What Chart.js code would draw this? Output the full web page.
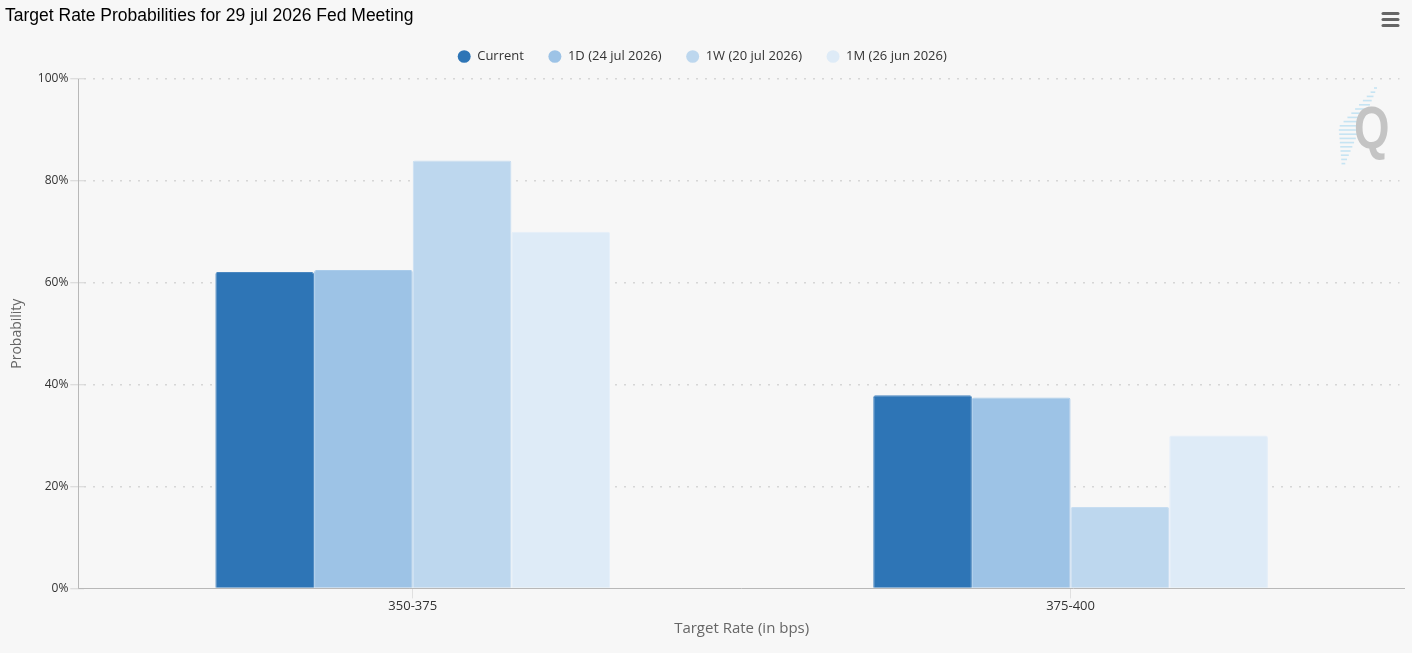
<!DOCTYPE html>
<html>
<head>
<meta charset="utf-8">
<title>Target Rate Probabilities</title>
<script src="https://cdn.jsdelivr.net/npm/chart.js@4.4.1/dist/chart.umd.min.js"></script>
<style>
    html, body {
        margin: 0;
        padding: 0;
        background: #f7f7f7;
    }
    #prob-chart-wrap {
        position: relative;
        width: 1412px;
        height: 653px;
    }
</style>
</head>
<body>
<div id="prob-chart-wrap">
    <canvas id="prob-chart-bar" width="1412" height="653"></canvas>
</div>
<script>
// values (percent)
const categories = ['350-375', '375-400'];
const seriesNames = ['Current', '1D (24 jul 2026)', '1W (20 jul 2026)', '1M (26 jun 2026)'];
const currentValues = [62.1, 37.9];
const oneDayValues = [62.5, 37.5];
const oneWeekValues = [84.0, 16.0];
const oneMonthValues = [70.0, 30.0];
const yTicks = [0, 20, 40, 60, 80, 100];

const seriesColors = ['#2e75b6', '#9dc3e6', '#bdd7ee', '#deebf7'];
const edgeColors = ['#4a87c0', '#a9cbea', '#c7ddf1', '#e4eef9'];
const axisFont = "'Open Sans', sans-serif";
const axisGap = 5.5;   // axis lines sit a little outside the plot area

// a bit of extra room under the legend
const legendGapPlugin = {
    id: 'legendGap',
    beforeLayout(chart) {
        const legend = chart.legend;
        if (legend && !legend._gapPatched) {
            const baseFit = legend.fit;
            legend.fit = function () {
                baseFit.call(this);
                this.height += 6;
            };
            legend._gapPatched = true;
        }
    }
};

// axis lines, hamburger menu and Q watermark
const decorPlugin = {
    id: 'decor',
    beforeDatasetsDraw(chart) {
        const c = chart.ctx;
        const area = chart.chartArea;
        c.save();
        // watermark stripes
        c.strokeStyle = 'rgba(150, 210, 240, 0.5)';
        c.lineWidth = 1.6;
        for (let y = 88; y <= 164; y += 4.2) {
            const xr = 1377 - (y - 88) * 0.42;
            const len = 3 + 19 * Math.max(0, 1 - Math.abs(y - 127) / 38);
            c.beginPath();
            c.moveTo(xr - len, y);
            c.lineTo(xr, y);
            c.stroke();
        }
        // Q letter
        c.fillStyle = '#c4c4c4';
        c.font = "bold 60px 'Liberation Sans', sans-serif";
        c.textBaseline = 'alphabetic';
        c.translate(1354, 148);
        c.scale(0.76, 1);
        c.fillText('Q', 0, 0);
        c.restore();

        // menu icon
        c.save();
        c.strokeStyle = '#666';
        c.lineWidth = 3;
        c.lineCap = 'round';
        [13.5, 19.5, 25.5].forEach(y => {
            c.beginPath();
            c.moveTo(1383, y);
            c.lineTo(1398, y);
            c.stroke();
        });
        c.restore();

        // y axis line
        c.save();
        c.strokeStyle = '#b8b8b8';
        c.lineWidth = 1;
        const ax = Math.round(area.left - axisGap) + 0.5;
        c.beginPath();
        c.moveTo(ax, area.top);
        c.lineTo(ax, area.bottom);
        c.stroke();
        c.restore();
    },
    afterDatasetsDraw(chart) {
        const c = chart.ctx;
        const area = chart.chartArea;
        c.save();
        c.strokeStyle = '#b8b8b8';
        c.lineWidth = 1;
        const ay = Math.round(area.bottom) + 0.5;
        c.beginPath();
        c.moveTo(area.left - axisGap, ay);
        c.lineTo(area.right + axisGap, ay);
        c.stroke();
        c.restore();
    }
};

const ctx = document.getElementById("prob-chart-bar").getContext("2d");
const valueLists = [currentValues, oneDayValues, oneWeekValues, oneMonthValues];

const dataInput = {
    labels: categories,
    datasets: valueLists.map((vals, i) => ({
        label: seriesNames[i],
        data: vals,
        backgroundColor: seriesColors[i],
        borderColor: edgeColors[i],
        borderWidth: 1,
        borderRadius: 2,
        borderSkipped: 'bottom',
        categoryPercentage: 0.6,
        barPercentage: 1.0
    }))
};

const myProbChart = new Chart(ctx, {
    type: 'bar',
    data: dataInput,
    plugins: [legendGapPlugin, decorPlugin],
    options: {
        responsive: false,
        animation: false,
        layout: {
            padding: {left: 5, right: 12.5, top: 0, bottom: 15}
        },
        plugins: {
            title: {
                display: true,
                text: 'Target Rate Probabilities for 29 jul 2026 Fed Meeting',
                align: 'start',
                color: '#000',
                font: {family: "'Liberation Sans', Arial, sans-serif", size: 17.5, weight: 'normal'},
                padding: {top: 5.5, bottom: -1}
            },
            legend: {
                position: 'top',
                labels: {
                    usePointStyle: true,
                    pointStyle: 'circle',
                    boxHeight: 9,
                    pointStyleWidth: 13,
                    padding: 24.5,
                    color: '#333',
                    font: {family: axisFont, size: 13},
                    generateLabels: chart => Chart.defaults.plugins.legend.labels.generateLabels(chart)
                        .map((item, i) => Object.assign(item, {strokeStyle: seriesColors[i], lineWidth: 0}))
                }
            },
            tooltip: {enabled: false}
        },
        scales: {
            x: {
                grid: {
                    display: true,
                    drawOnChartArea: false,
                    offset: false,
                    tickLength: 10,
                    color: '#e0e0e0'
                },
                border: {display: false},
                ticks: {
                    color: '#333',
                    padding: 0,
                    font: {family: axisFont, size: 13}
                },
                title: {
                    display: true,
                    text: 'Target Rate (in bps)',
                    color: '#666',
                    padding: {top: 6, bottom: 0},
                    font: {family: axisFont, size: 15}
                }
            },
            y: {
                min: 0,
                max: 100,
                afterBuildTicks: axis => {
                    axis.ticks = yTicks.map(v => ({value: v}));
                },
                grid: {
                    color: ctx => ctx.tick && ctx.tick.value === 0 ? 'rgba(0,0,0,0)' : '#d6d6d6',
                    lineWidth: 1.5,
                    tickLength: 8 + axisGap,
                    tickColor: '#d4d4d4',
                    tickWidth: 1
                },
                border: {display: false, dash: [2, 7]},
                ticks: {
                    color: '#333',
                    padding: 2,
                    font: {family: axisFont, size: 12},
                    callback: v => v + '%'
                },
                title: {
                    display: true,
                    text: 'Probability',
                    color: '#666',
                    padding: {top: 4, bottom: 10},
                    font: {family: axisFont, size: 14}
                }
            }
        }
    }
});
</script>
</body>
</html>
